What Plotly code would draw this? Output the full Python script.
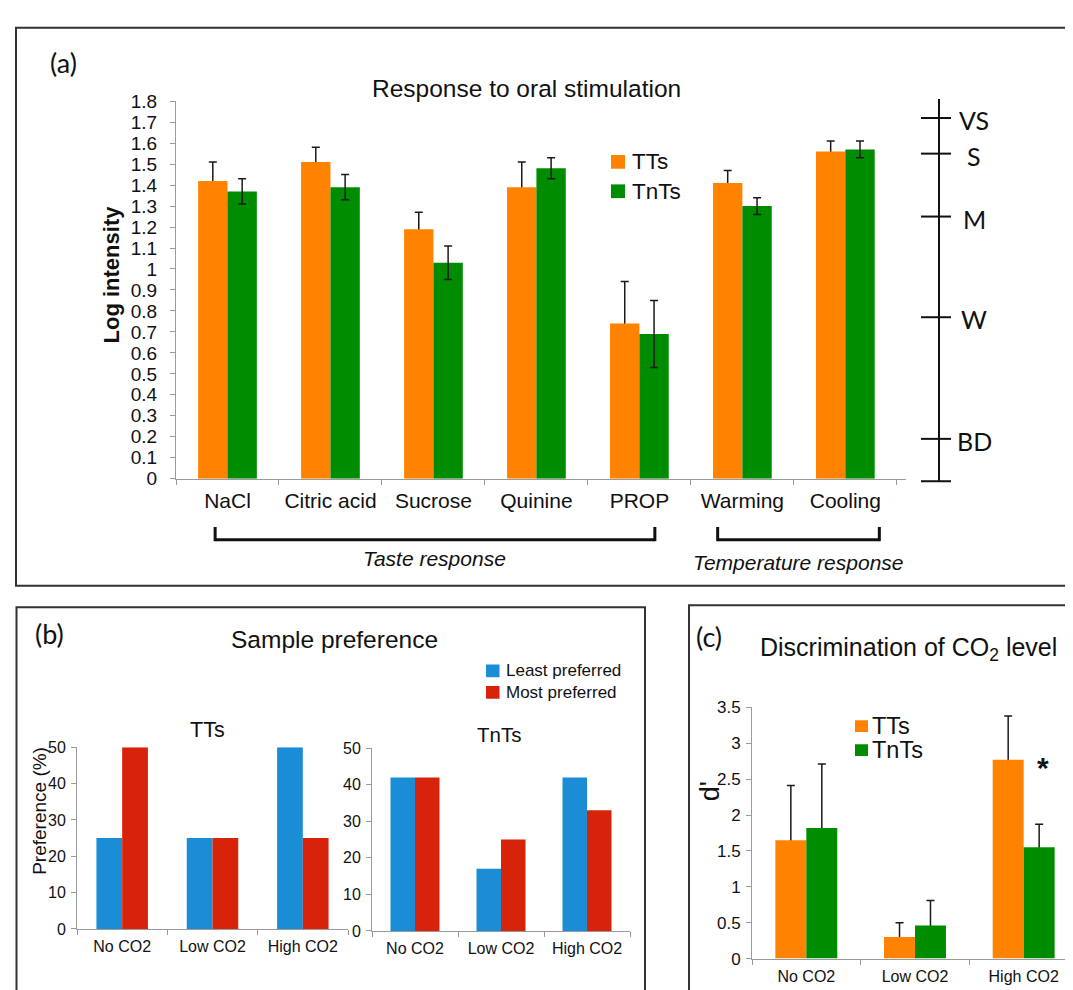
import plotly.graph_objects as go

W, H = 1073, 990

# ---------------- data ----------------
# Panel (a): Response to oral stimulation
stimuli = ["NaCl", "Citric acid", "Sucrose", "Quinine", "PROP", "Warming", "Cooling"]
tts_a = [1.42, 1.51, 1.19, 1.39, 0.74, 1.41, 1.56]
tts_a_err = [0.09, 0.07, 0.08, 0.12, 0.20, 0.06, 0.05]
tnts_a = [1.37, 1.39, 1.03, 1.48, 0.69, 1.30, 1.57]
tnts_a_err = [0.06, 0.06, 0.08, 0.05, 0.16, 0.04, 0.04]
scale_labels = ["VS", "S", "M", "W", "BD"]
scale_values = [1.72, 1.55, 1.25, 0.77, 0.19]

# Panel (b): Sample preference
co2_levels = ["No CO2", "Low CO2", "High CO2"]
tts_least = [25, 25, 50]
tts_most = [50, 25, 25]
tnts_least = [42, 17, 42]
tnts_most = [42, 25, 33]
pref_names = ["Least preferred", "Most preferred"]

# Panel (c): Discrimination of CO2 level
tts_c = [1.65, 0.30, 2.77]
tts_c_err = [0.76, 0.20, 0.61]
tnts_c = [1.82, 0.46, 1.55]
tnts_c_err = [0.89, 0.35, 0.32]
groups = ["TTs", "TnTs"]

# ---------------- style ----------------
ORANGE = "#FF8200"
GREEN = "#008C00"
BLUE = "#1B8DD6"
RED = "#D6230A"
AXC = "#9a9a9a"
ARIAL = "Liberation Sans, Arial, sans-serif"
CAL = "Lato, Open Sans, sans-serif"


def px(x):
    return x / W


def py(y):
    return 1 - y / H


ERR = dict(color="#1a1a1a", thickness=1.5, width=4)

fig = go.Figure()


def add_bars(x, y, color, xa, ya, err=None, sym_err=None, offsetgroup=None):
    if err is not None:
        # carrier: its lower whisker half is hidden behind the real bar drawn next
        fig.add_trace(go.Bar(x=x, y=y, xaxis=xa, yaxis=ya, offsetgroup=offsetgroup,
                             marker=dict(color="rgba(0,0,0,0)", line=dict(width=0)),
                             error_y=dict(type="data", array=err, symmetric=True, **ERR),
                             hoverinfo="skip", showlegend=False))
    fig.add_trace(go.Bar(x=x, y=y, xaxis=xa, yaxis=ya, offsetgroup=offsetgroup,
                         marker=dict(color=color, line=dict(width=0)),
                         error_y=(dict(type="data", array=sym_err, symmetric=True, **ERR)
                                  if sym_err is not None else None),
                         showlegend=False))


# panel (a)
add_bars(stimuli, tts_a, ORANGE, "x", "y", err=tts_a_err, offsetgroup="o")
add_bars(stimuli, tnts_a, GREEN, "x", "y", sym_err=tnts_a_err, offsetgroup="g")
# panel (b)
add_bars(co2_levels, tts_least, BLUE, "x2", "y2", offsetgroup="l")
add_bars(co2_levels, tts_most, RED, "x2", "y2", offsetgroup="m")
add_bars(co2_levels, tnts_least, BLUE, "x3", "y3", offsetgroup="l")
add_bars(co2_levels, tnts_most, RED, "x3", "y3", offsetgroup="m")
# panel (c)
add_bars(co2_levels, tts_c, ORANGE, "x4", "y4", err=tts_c_err, offsetgroup="o")
add_bars(co2_levels, tnts_c, GREEN, "x4", "y4", err=tnts_c_err, offsetgroup="g")


def xax(domain, anchor, size, standoff):
    return dict(domain=domain, anchor=anchor, type="category", showline=True, linecolor=AXC,
                linewidth=1, ticks="outside", tickson="boundaries", ticklen=5, tickcolor=AXC,
                tickfont=dict(family=ARIAL, size=size, color="#111"), showgrid=False,
                zeroline=False, ticklabelstandoff=standoff, fixedrange=True)


def yax(domain, anchor, rng, dtick, size, standoff):
    return dict(domain=domain, anchor=anchor, range=rng, dtick=dtick, tick0=0, showline=True,
                linecolor=AXC, linewidth=1, ticks="outside", ticklen=5, tickcolor=AXC,
                tickfont=dict(family=ARIAL, size=size, color="#111"), showgrid=False,
                zeroline=False, ticklabelstandoff=standoff, fixedrange=True)


# subplot geometry (pixels)
A_X = (168, 898); A_Y = (470.7, 85)
B1_X = (69, 340); B1_Y = (930.7, 745)
B2_X = (364, 622); B2_Y = (932.7, 746)
C_X = (744, 1070); C_Y = (961, 704.3)
A_RANGE = [0, 1.8]

fig.update_layout(
    width=W, height=H, margin=dict(l=0, r=0, t=0, b=0),
    paper_bgcolor="white", plot_bgcolor="rgba(0,0,0,0)",
    barmode="group", bargap=0.43, bargroupgap=0,
    showlegend=False,
    xaxis=xax([px(A_X[0]), px(A_X[1])], "y", 21, 3),
    yaxis=yax([py(A_Y[0]), py(A_Y[1])], "x", A_RANGE, 0.1, 19, 9),
    xaxis2=xax([px(B1_X[0]), px(B1_X[1])], "y2", 16, 3),
    yaxis2=yax([py(B1_Y[0]), py(B1_Y[1])], "x2", [0, 50], 10, 16, 2),
    xaxis3=xax([px(B2_X[0]), px(B2_X[1])], "y3", 16, 3),
    yaxis3=yax([py(B2_Y[0]), py(B2_Y[1])], "x3", [0, 50], 10, 16, 2),
    xaxis4=xax([px(C_X[0]), px(C_X[1])], "y4", 16, 3),
    yaxis4=yax([py(C_Y[0]), py(C_Y[1])], "x4", [0, 3.5], 0.5, 17, 2),
)


def a_y(v):
    """map a value on panel (a)'s y scale to paper coordinates"""
    y0, y1 = py(A_Y[0]), py(A_Y[1])
    return y0 + (v - A_RANGE[0]) / (A_RANGE[1] - A_RANGE[0]) * (y1 - y0)


shapes = []
annots = []


def text(t, x, y, size, family=ARIAL, color="#111", **kw):
    annots.append(dict(text=t, x=px(x), y=py(y), xref="paper", yref="paper", showarrow=False,
                       font=dict(family=family, size=size, color=color), xanchor=kw.pop("xanchor", "center"),
                       yanchor="middle", **kw))


# panel frames
FRAME = dict(color="#333333", width=2)
shapes.append(dict(type="rect", xref="paper", yref="paper", x0=px(8), x1=px(1066), y0=py(580), y1=py(10), line=FRAME))
shapes.append(dict(type="rect", xref="paper", yref="paper", x0=px(8.5), x1=px(637), y0=py(1000), y1=py(602), line=FRAME))
shapes.append(dict(type="rect", xref="paper", yref="paper", x0=px(681), x1=px(1085), y0=py(1000), y1=py(600), line=FRAME))

# ---- panel (a) texts
text("(a)", 55, 45, 27, CAL)
text("Response to oral stimulation", 518, 72, 24.5)
text("<b>Log intensity</b>", 103, 262, 22, textangle=-90)
# legend (a)
for i, (g, c) in enumerate(zip(groups, [ORANGE, GREEN])):
    cy = 147 + 30 * i
    shapes.append(dict(type="rect", xref="paper", yref="paper", x0=px(603), x1=px(617),
                       y0=py(cy + 7), y1=py(cy - 7), fillcolor=c, line=dict(width=0)))
    text(g, 622, cy, 22.5, xanchor="left")

# brackets below categories (category index positions)
BR = dict(color="#111", width=3)
for (x0, x1, label, ty) in [(-0.12, 4.15, "Taste response", 552), (4.76, 6.33, "Temperature response", 556)]:
    shapes.append(dict(type="line", xref="x", yref="paper", x0=x0, x1=x0, y0=py(520), y1=py(534.5), line=BR))
    shapes.append(dict(type="line", xref="x", yref="paper", x0=x1, x1=x1, y0=py(520), y1=py(534.5), line=BR))
    shapes.append(dict(type="line", xref="x", yref="paper", x0=x0, x1=x1, y0=py(533), y1=py(533), line=BR))
    annots.append(dict(text="<i>" + label + "</i>", x=(x0 + x1) / 2, y=py(ty), xref="x", yref="paper",
                       showarrow=False, font=dict(family=ARIAL, size=21, color="#111"),
                       xanchor="center", yanchor="middle"))

# labelled magnitude scale on the right
SC = dict(color="#111", width=2)
shapes.append(dict(type="line", xref="paper", yref="paper", x0=px(931), x1=px(931),
                   y0=a_y(-0.012), y1=a_y(1.81), line=SC))
for v in scale_values + [-0.012]:
    shapes.append(dict(type="line", xref="paper", yref="paper", x0=px(913), x1=px(943),
                       y0=a_y(v), y1=a_y(v), line=SC))
for lab, v in zip(scale_labels, scale_values):
    annots.append(dict(text=lab, x=px(966), y=a_y(v), xref="paper", yref="paper", showarrow=False,
                       font=dict(family=CAL, size=25, color="#111"), xanchor="center",
                       yanchor="middle", yshift=-2))

# ---- panel (b) texts
text("(b)", 41, 629, 27, CAL)
text("Sample preference", 327, 635, 24.5)
text("TTs", 199, 727, 21.5)
text("TnTs", 491, 732, 20.5)
text("Preference (%)", 32, 810, 19, textangle=-90)
for i, (n, c) in enumerate(zip(pref_names, [BLUE, RED])):
    cy = 667 + 22 * i
    shapes.append(dict(type="rect", xref="paper", yref="paper", x0=px(478), x1=px(491.5),
                       y0=py(cy + 6.5), y1=py(cy - 6.5), fillcolor=c, line=dict(width=0)))
    text(n, 496, cy, 17, xanchor="left")

# ---- panel (c) texts
text("(c)", 701, 632, 27, CAL)
text("Discrimination of CO<sub>2</sub> level", 900, 645, 25)
text("d'", 702, 790, 27, textangle=-90)
for i, (g, c) in enumerate(zip(groups, [ORANGE, GREEN])):
    cy = 723.5 + 24.5 * i
    shapes.append(dict(type="rect", xref="paper", yref="paper", x0=px(847), x1=px(860),
                       y0=py(cy + 6), y1=py(cy - 6), fillcolor=c, line=dict(width=0)))
    text(g, 862, cy, 23.5, xanchor="left")
annots.append(dict(text="<b>*</b>", x="High CO2", y=tts_c[2], xref="x4", yref="y4", showarrow=False,
                   font=dict(family=ARIAL, size=30, color="#111"), xanchor="center", yanchor="middle",
                   xshift=19, yshift=-8))

fig.update_layout(shapes=shapes, annotations=annots)
fig.write_html("out.html")
